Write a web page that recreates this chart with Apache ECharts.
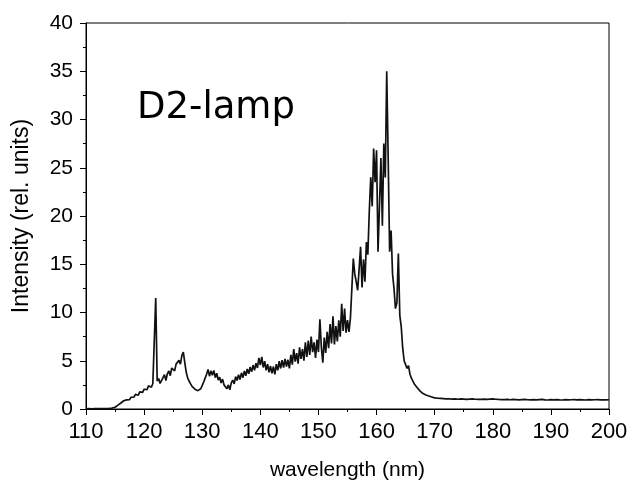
<!DOCTYPE html>
<html>
<head>
<meta charset="utf-8">
<script src="https://cdn.jsdelivr.net/npm/echarts@6/dist/echarts.min.js"></script>
<style>html,body{margin:0;padding:0;background:#fff;}#c{width:631px;height:486px;}</style>
</head>
<body>
<div id="c"></div>
<script>
// Spectrum sampled at 0.25 nm from 110.00 to 169.75 nm
const startMain = 110, stepMain = 0.25;
const intensityMain = [
  // 110 - 114.75
  0.02,0.02,0.03,0.02,0.02,0.03,0.03,0.02,0.03,0.04,0.04,0.03,0.04,0.05,0.05,0.06,0.07,0.08,0.10,0.12,
  // 115 - 119.75
  0.18,0.28,0.40,0.50,0.62,0.70,0.85,0.72,0.95,1.12,0.98,1.22,1.38,1.22,1.52,1.62,1.42,1.78,1.92,1.72,
  // 120 - 121.75
  2.05,2.25,2.00,2.40,2.55,2.25,2.65,2.45,
  // 122 - 123.75
  11.5,2.90,3.15,2.65,2.55,3.25,3.55,2.95,
  // 124 - 125.75
  3.65,3.95,3.45,4.25,4.45,3.95,4.65,4.85,
  // 126 - 127.75
  5.05,4.65,5.55,5.90,4.80,3.80,3.20,2.90,
  // 128 - 129.75
  2.60,2.35,2.30,2.05,2.00,1.90,2.05,2.10,
  // 130 - 131.75
  2.45,2.80,3.20,3.60,4.10,3.40,3.95,3.50,
  // 132 - 133.75
  4.00,3.25,3.70,3.00,3.30,2.70,3.10,2.50,
  // 134 - 135.75
  2.60,2.10,2.50,2.00,2.70,3.00,2.60,3.35,
  // 136 - 137.75
  2.95,3.55,3.05,3.75,3.25,3.95,3.45,4.15,
  // 138 - 139.75
  3.65,4.35,3.85,4.55,4.00,4.75,4.25,5.30,
  // 140 - 141.75
  4.55,5.40,4.30,4.95,4.00,4.65,3.80,4.45,
  // 142 - 143.75
  3.70,4.40,3.60,4.65,4.00,4.95,4.20,5.05,
  // 144 - 145.75
  4.30,5.20,4.40,5.10,4.20,5.60,4.60,6.20,
  // 146 - 147.75
  4.90,5.80,4.70,6.40,5.20,6.20,5.00,6.90,
  // 148 - 149.75
  5.40,7.10,5.60,7.50,5.90,6.90,5.30,7.20,
  // 150 - 151.75
  5.90,9.30,6.40,4.80,7.40,5.80,8.00,6.30,
  // 152 - 153.75
  8.80,6.80,9.60,6.70,8.60,7.00,9.20,7.50,
  // 154 - 155.75
  10.9,8.10,10.4,7.90,9.20,8.00,9.40,9.60,
  // 156 - 157.75
  15.6,14.0,13.2,12.3,14.5,16.8,12.6,15.5,
  // 158 - 159.75
  13.2,17.3,16.0,20.5,24.0,21.0,27.0,23.5,
  // 160 - 161.75
  26.8,16.3,21.0,26.0,19.0,27.5,24.0,35.0,
  // 162 - 163.75
  26.0,16.3,18.5,14.0,12.5,10.4,11.0,16.1,
  // 164 - 165.75
  9.70,8.50,6.30,5.00,4.60,4.20,4.50,3.60,
  // 166 - 167.75
  3.20,2.90,2.60,2.40,2.20,2.00,1.85,1.70,
  // 168 - 169.75
  1.60,1.50,1.45,1.40,1.35,1.30,1.25,1.20
];
// Tail sampled at 0.5 nm from 170 to 200 nm
const startTail = 170, stepTail = 0.5;
const intensityTail = [
  1.15,1.12,1.10,1.08,1.05,1.06,1.03,1.04,1.01,1.04,
  1.02,1.00,1.03,1.04,1.01,1.00,0.99,1.03,1.00,1.02,
  1.04,1.01,0.99,0.98,0.97,1.00,0.96,0.99,0.97,0.95,
  0.98,0.99,0.96,0.94,0.98,0.95,0.97,0.99,0.95,0.93,
  0.97,0.94,0.98,0.95,0.93,0.97,0.94,0.96,0.98,0.94,
  0.97,0.95,0.93,0.97,0.94,0.96,0.98,0.94,0.96,0.95,
  0.96
];
const xTicks = [110,120,130,140,150,160,170,180,190,200];
const yTicks = [0,5,10,15,20,25,30,35,40];
const labelText = 'D2-lamp';
const xTitle = 'wavelength (nm)';
const yTitle = 'Intensity (rel. units)';

const data = [];
intensityMain.forEach((v, i) => data.push([startMain + i * stepMain, v]));
intensityTail.forEach((v, i) => data.push([startTail + i * stepTail, v]));

const chart = echarts.init(document.getElementById('c'), null, {renderer: 'canvas'});
const font = 'Liberation Sans, Arial, sans-serif';
chart.setOption({
  animation: false,
  backgroundColor: '#fff',
  grid: {left: 86, right: 22, top: 23, bottom: 75, show: true, borderColor: '#000', borderWidth: 1, backgroundColor: 'transparent'},
  xAxis: {
    type: 'value', min: xTicks[0], max: xTicks[xTicks.length - 1], interval: 10,
    name: xTitle, nameLocation: 'middle', nameGap: 51,
    nameTextStyle: {fontFamily: font, fontSize: 21, color: '#000'},
    axisLine: {show: true, lineStyle: {color: '#000', width: 1}},
    axisTick: {show: true, length: 6, inside: false, lineStyle: {color: '#000'}},
    minorTick: {show: true, splitNumber: 2, length: 3, lineStyle: {color: '#000'}},
    axisLabel: {fontFamily: font, fontSize: 22, color: '#000', margin: 12},
    splitLine: {show: false}
  },
  yAxis: {
    type: 'value', min: yTicks[0], max: yTicks[yTicks.length - 1], interval: 5,
    name: yTitle, nameLocation: 'middle', nameGap: 53,
    nameTextStyle: {fontFamily: font, fontSize: 23, color: '#000'},
    axisLine: {show: true, lineStyle: {color: '#000', width: 1}},
    axisTick: {show: true, length: 6, inside: false, lineStyle: {color: '#000'}},
    minorTick: {show: true, splitNumber: 2, length: 3, lineStyle: {color: '#000'}},
    axisLabel: {fontFamily: font, fontSize: 21, color: '#000', margin: 13},
    splitLine: {show: false}
  },
  graphic: [{
    type: 'text', left: 137, top: 90,
    style: {text: labelText, font: '37px "DejaVu Sans"', fill: '#000'}
  }],
  series: [{
    type: 'line', data: data, symbol: 'none', smooth: false,
    lineStyle: {color: '#111', width: 1.7},
    clip: true
  }]
});
</script>
</body>
</html>
